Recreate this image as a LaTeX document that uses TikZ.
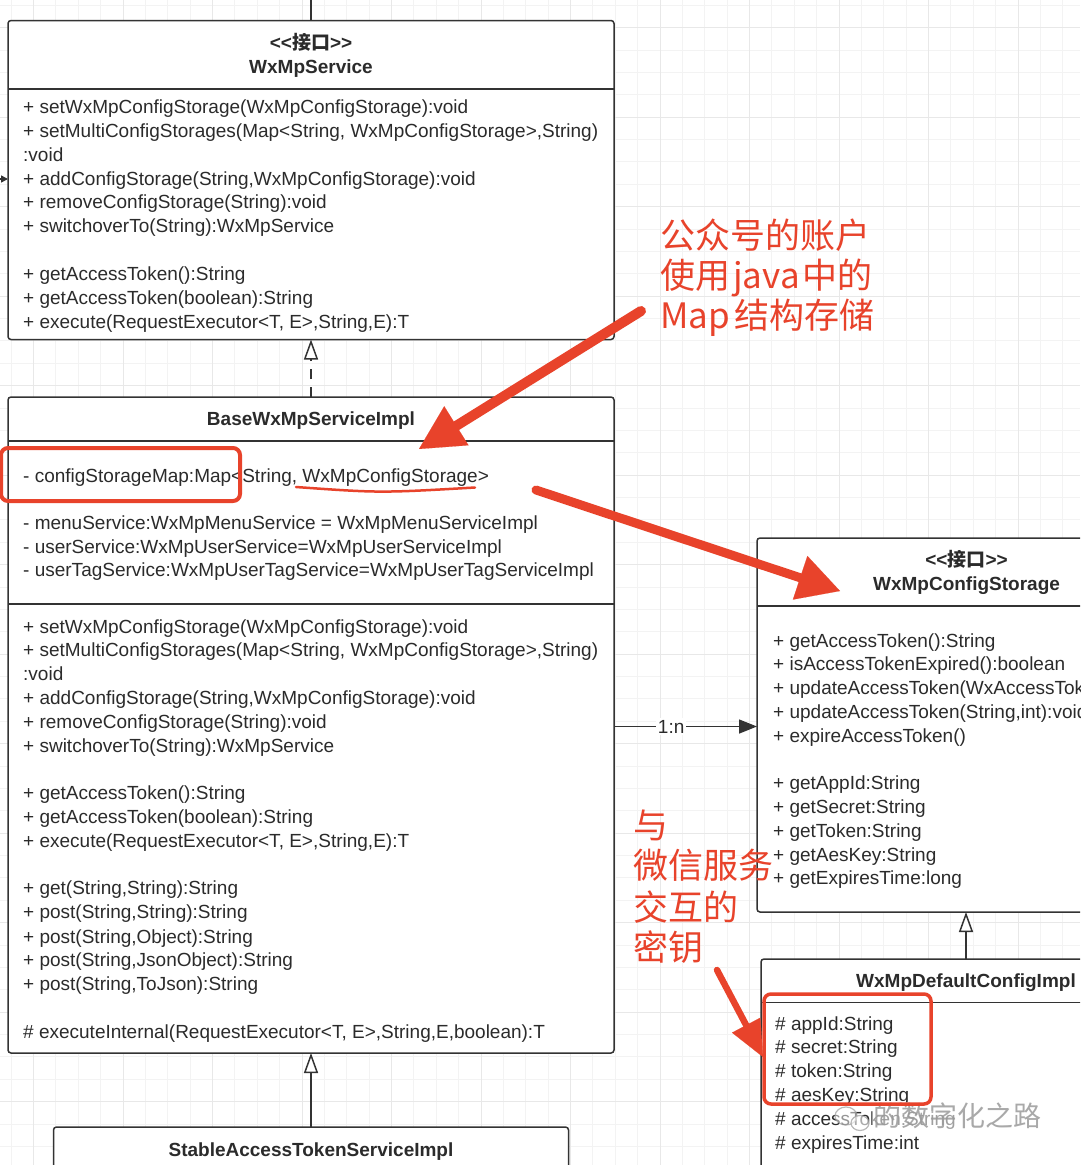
\documentclass[tikz,border=0pt]{standalone}
\usepackage{fontspec}
\setmainfont{Liberation Sans}
\newfontfamily\uisans{Liberation Sans}
\newfontfamily\cjk{Noto Sans CJK SC}
\usetikzlibrary{arrows.meta}
\definecolor{linec}{HTML}{333333}
\definecolor{textc}{HTML}{2B2B2B}
\definecolor{redc}{HTML}{E8432B}
\definecolor{gridmin}{HTML}{F3F3F3}
\definecolor{gridmaj}{HTML}{E8E8E8}
\definecolor{wmc}{HTML}{9A9A9A}
\tikzset{
  cls/.style={draw=linec, line width=1.5pt, fill=white, rounded corners=3pt, inner sep=0pt, outer sep=0pt},
  sepl/.style={draw=linec, line width=1.5pt},
  mem/.style={anchor=mid west, yshift=-4pt, inner sep=0pt, text=textc, font=\uisans\fontsize{19}{23}\selectfont},
  hdr/.style={anchor=mid, yshift=-4pt, inner sep=0pt, text=textc, font=\uisans\bfseries\fontsize{19}{23}\selectfont},
  conn/.style={draw=linec, line width=1.5pt},
  opentip/.style={-{Triangle[length=20pt,width=14pt,fill=white]}},
  redtxt/.style={anchor=base west, inner sep=0pt, text=redc, font=\cjk\fontsize{35}{40}\selectfont},
  redbox/.style={draw=redc, line width=4pt, rounded corners=7pt},
  redarr/.style={draw=redc, line cap=round},
}
\begin{document}
\begin{tikzpicture}[x=1pt,y=-1pt]
\useasboundingbox (0,0) rectangle (1080,1165);
\fill[white] (0,0) rectangle (1080,1165);
\begin{scope}
\clip (0,0) rectangle (1080,1165);
% grid
\foreach \i in {0,...,52} \draw[gridmin, line width=1pt] ({-33.6+22.375*\i},0) -- ({-33.6+22.375*\i},1165);
\foreach \i in {0,...,53} \draw[gridmin, line width=1pt] (0,{-17.05+22.375*\i}) -- (1080,{-17.05+22.375*\i});
\foreach \i in {0,...,12} \draw[gridmaj, line width=1pt] ({33.5+89.5*\i},0) -- ({33.5+89.5*\i},1165);
\foreach \i in {0,...,13} \draw[gridmaj, line width=1pt] (0,{27.7+89.5*\i}) -- (1080,{27.7+89.5*\i});

% ---------- class boxes ----------
\node[cls, minimum width=606pt, minimum height=319pt] (svc) at (311,180) {};
\node[cls, minimum width=606pt, minimum height=656pt] (base) at (311,725) {};
\node[cls, minimum width=515pt, minimum height=120pt] (stable) at (311,1187) {};
\node[cls, minimum width=419pt, minimum height=374pt] (cfg) at (966.5,725) {};
\node[cls, minimum width=410pt, minimum height=260pt] (def) at (966,1089) {};

% dividers
\coordinate (d1) at (0,89);
\coordinate (d2) at (0,441);
\coordinate (d3) at (0,604);
\coordinate (d4) at (0,606);
\coordinate (d5) at (0,1002.5);
\draw[sepl] (svc.west |- d1) -- (svc.east |- d1);
\draw[sepl] (base.west |- d2) -- (base.east |- d2);
\draw[sepl] (base.west |- d3) -- (base.east |- d3);
\draw[sepl] (cfg.west |- d4) -- (cfg.east |- d4);
\draw[sepl] (def.west |- d5) -- (def.east |- d5);

% headers
\node[hdr] (svch1) at (311,43) {<<{\cjk 接口}>>};
\node[hdr] (svch2) at (311,67) {WxMpService};
\node[hdr] (baseh) at (311,419) {BaseWxMpServiceImpl};
\node[hdr] (stableh) at (311,1150) {StableAccessTokenServiceImpl};
\node[hdr] (cfgh1) at (966.5,560) {<<{\cjk 接口}>>};
\node[hdr] (cfgh2) at (966.5,584) {WxMpConfigStorage};
\node[hdr] (defh) at (966,981) {WxMpDefaultConfigImpl};

% WxMpService members
\foreach \y/\t [count=\k] in {
  107/{+ setWxMpConfigStorage(WxMpConfigStorage):void},
  131/{+ setMultiConfigStorages(Map<String, WxMpConfigStorage>,String)},
  155/{:void},
  179/{+ addConfigStorage(String,WxMpConfigStorage):void},
  202/{+ removeConfigStorage(String):void},
  226/{+ switchoverTo(String):WxMpService},
  274/{+ getAccessToken():String},
  298/{+ getAccessToken(boolean):String},
  322/{+ execute(RequestExecutor<T, E>,String,E):T}}
  \node[mem] (svcm\k) at (23,\y) {\t};

% BaseWxMpServiceImpl attributes + methods
\foreach \y/\t [count=\k] in {
  475.5/{- configStorageMap:Map<String, WxMpConfigStorage>},
  523/{- menuService:WxMpMenuService = WxMpMenuServiceImpl},
  546.5/{- userService:WxMpUserService=WxMpUserServiceImpl},
  570/{- userTagService:WxMpUserTagService=WxMpUserTagServiceImpl},
  626.5/{+ setWxMpConfigStorage(WxMpConfigStorage):void},
  650/{+ setMultiConfigStorages(Map<String, WxMpConfigStorage>,String)},
  674/{:void},
  698/{+ addConfigStorage(String,WxMpConfigStorage):void},
  721.5/{+ removeConfigStorage(String):void},
  745.5/{+ switchoverTo(String):WxMpService},
  793/{+ getAccessToken():String},
  817/{+ getAccessToken(boolean):String},
  840.5/{+ execute(RequestExecutor<T, E>,String,E):T},
  888/{+ get(String,String):String},
  912/{+ post(String,String):String},
  936.5/{+ post(String,Object):String},
  960/{+ post(String,JsonObject):String},
  984/{+ post(String,ToJson):String},
  1031.5/{\# executeInternal(RequestExecutor<T, E>,String,E,boolean):T}}
  \node[mem] (basem\k) at (23,\y) {\t};

% WxMpConfigStorage methods
\foreach \y/\t [count=\k] in {
  640.5/{+ getAccessToken():String},
  664/{+ isAccessTokenExpired():boolean},
  688/{+ updateAccessToken(WxAccessToken):void},
  711.5/{+ updateAccessToken(String,int):void},
  735.5/{+ expireAccessToken()},
  783/{+ getAppId:String},
  807/{+ getSecret:String},
  830.5/{+ getToken:String},
  854.5/{+ getAesKey:String},
  878/{+ getExpiresTime:long}}
  \node[mem] (cfgm\k) at (773,\y) {\t};

% WxMpDefaultConfigImpl attributes
\foreach \y/\t [count=\k] in {
  1024/{\# appId:String},
  1047/{\# secret:String},
  1071/{\# token:String},
  1095/{\# aesKey:String},
  1118.5/{\# accessToken:String},
  1142.5/{\# expiresTime:int}}
  \node[mem] (defm\k) at (775,\y) {\t};

% ---------- connectors ----------
\coordinate (topin) at (311,0);
\draw[conn] (topin) -- (svc.north);
\coordinate (lin) at (0,179);
\draw[conn, -{Triangle[length=7pt,width=7pt]}] (lin) -- (lin -| svc.west);
\draw[conn, dash pattern=on 10pt off 8pt, opentip] (base.north) -- (svc.south);
\draw[conn, opentip] (stable.north) -- (base.south);
\draw[conn, opentip] (def.north) -- (def.north |- cfg.south);
\coordinate (y1n) at (0,726.5);
\draw[conn, -{Triangle[length=18pt,width=14pt]}] (base.east |- y1n) -- (cfg.west |- y1n)
  node[pos=0.4, fill=white, inner sep=1.5pt, text=textc, font=\uisans\fontsize{19}{23}\selectfont] (lbl1n) {1:n};

% ---------- watermark ----------
\draw[wmc, opacity=0.7, line width=1.2pt, fill=white, fill opacity=0.5] (846,1116) ellipse (11pt and 9pt);
\draw[wmc, opacity=0.7, line width=1.2pt, fill=white, fill opacity=0.6] (860,1123) ellipse (9pt and 7.5pt);
\node[anchor=mid west, yshift=-7pt, inner sep=1pt, fill=white, fill opacity=0.55, text=wmc, text opacity=0.85, font=\cjk\fontsize{28}{30}\selectfont] (wm) at (872,1117) {的数字化之路};

% ---------- red annotations ----------
\node[redtxt] (n1a) at (660,248) {公众号的账户};
\node[redtxt] (n1b) at (660,288) {使用\hspace{3pt}java\hspace{3pt}中的};
\node[redtxt] (n1c) at (660,328) {Map\hspace{4pt}结构存储};
\node[redtxt] (n2a) at (633,838) {与};
\node[redtxt] (n2b) at (633,878) {微信服务};
\node[redtxt] (n2c) at (633,920) {交互的};
\node[redtxt] (n2d) at (633,960) {密钥};

\draw[redbox] (1,448) rectangle (240,501);
\draw[redbox, line width=3.5pt] (764,994) rectangle (931,1104);
\draw[redc, line width=2.5pt, line cap=round] (296,487) .. controls (380,493) .. (475,487.5);

\coordinate (r1s) at (641,311);
\coordinate (r1e) at (419,449);
\draw[redarr, line width=10pt, -{Triangle[length=44pt,width=46pt,line width=0.1pt]}] (r1s) -- (r1e);
\coordinate (r2s) at (536,490);
\coordinate (r2e) at (840,591);
\draw[redarr, line width=9pt, -{Triangle[length=42pt,width=46pt,line width=0.1pt]}] (r2s) -- (r2e);
\coordinate (r3s) at (717,970);
\coordinate (r3e) at (763,1057);
\draw[redarr, line width=6.5pt, -{Triangle[length=36pt,width=32pt,line width=0.1pt]}] (r3s) -- (r3e);
\end{scope}
\end{tikzpicture}
\end{document}
